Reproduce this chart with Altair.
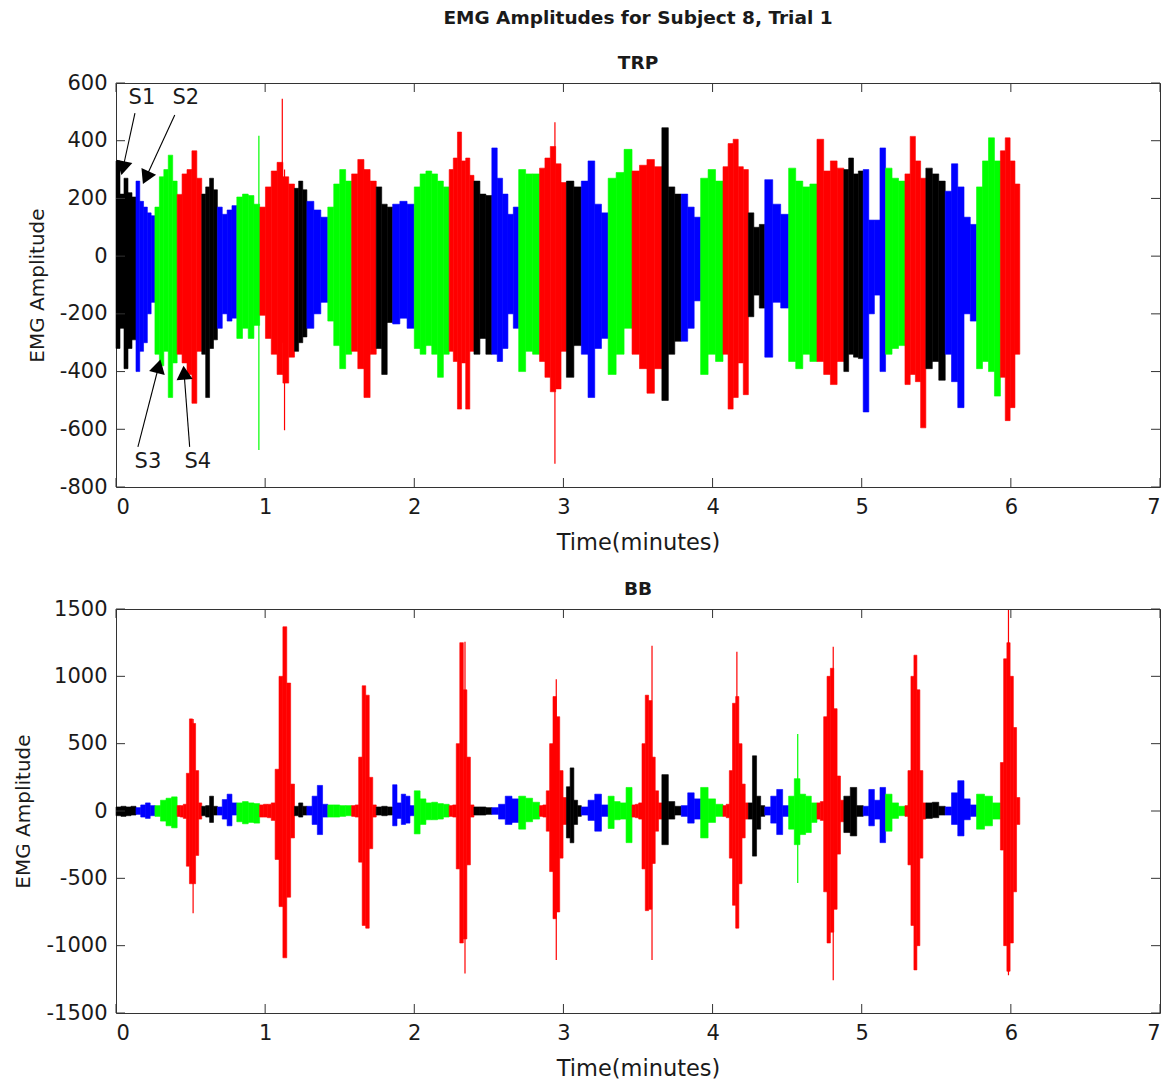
import math
import altair as alt
import pandas as pd

# ---------------- data ----------------
# segment boundaries (minutes); colours cycle S1..S4 = black, blue, green, red
BOUNDS = [0.0, 0.134, 0.261, 0.41, 0.575, 0.68, 0.81, 0.963, 1.197, 1.28, 1.42,
          1.58, 1.745, 1.855, 2.0, 2.234, 2.40, 2.52, 2.70, 2.84, 3.02, 3.12,
          3.30, 3.46, 3.66, 3.79, 3.92, 4.07, 4.24, 4.35, 4.51, 4.70, 4.88,
          5.01, 5.16, 5.29, 5.43, 5.56, 5.77, 5.93, 6.06]
COLORS = ["#000000", "#0000ff", "#00ff00", "#ff0000"]

# TRP envelope (upper / lower amplitude) across each segment
TRP_TOPS = [
    [330, 215, 270, 220, 205], [260, 190, 170, 150, 140], [170, 275, 300, 350, 260],
    [214, 285, 300, 365, 270], [215, 240, 270, 230], [170, 145, 160, 175],
    [205, 215, 210, 180], [170, 240, 295, 325, 275, 250], [235, 260, 230],
    [190, 160, 135], [170, 250, 300, 260], [285, 335, 300, 260], [240, 180, 170],
    [180, 190, 180], [240, 285, 295, 285, 260, 240], [300, 340, 430, 330, 340, 280],
    [260, 215, 210], [375, 270, 215, 145, 170], [300, 285, 285],
    [305, 340, 380, 320, 255], [260, 240], [260, 330, 180, 150], [270, 290, 370],
    [295, 315, 335, 310], [445, 240, 215], [215, 170, 135], [270, 300, 260],
    [310, 390, 405, 310, 300], [150, 100, 110], [265, 180, 145], [305, 260, 240, 250],
    [405, 295, 330, 305], [300, 340, 285, 295], [300, 125, 125, 375], [305, 270, 260],
    [285, 415, 330, 270], [305, 285, 260], [225, 320, 240, 135, 110],
    [240, 330, 410, 330], [365, 410, 330, 250],
]
TRP_BOTS = [
    [-320, -250, -390, -320, -290], [-400, -330, -300, -200, -160], [-340, -380, -330, -490, -370],
    [-340, -370, -410, -510, -330], [-340, -490, -320, -290], [-250, -200, -225, -215],
    [-285, -250, -285, -240], [-205, -285, -340, -410, -440, -350], [-330, -300, -280],
    [-250, -200, -160], [-225, -310, -390, -340], [-330, -390, -490, -340], [-320, -410, -230],
    [-235, -215, -250], [-320, -340, -310, -340, -420, -340], [-330, -365, -530, -370, -530, -330],
    [-340, -285, -340], [-340, -365, -320, -200, -250], [-400, -330, -340],
    [-365, -420, -470, -460, -330], [-420, -310], [-340, -490, -320, -285], [-410, -340, -250],
    [-340, -390, -475, -390], [-500, -340, -295], [-295, -250, -155], [-410, -340, -365],
    [-340, -530, -490, -370, -480], [-210, -135, -180], [-350, -160, -180], [-365, -390, -340, -365],
    [-365, -410, -445, -365], [-400, -340, -350, -355], [-540, -200, -135, -400], [-340, -320, -310],
    [-445, -410, -435, -595], [-390, -365, -430], [-340, -435, -525, -200, -225],
    [-390, -365, -400, -485], [-420, -570, -525, -340],
]
# isolated spikes: time, upper, lower
TRP_SPIKE_T = [0.958, 1.115, 1.13, 2.943]
TRP_SPIKE_TOP = [417, 545, 300, 464]
TRP_SPIKE_BOT = [-672, -300, -603, -719]

BB_TOPS = [
    [30, 35, 30, 35], [25, 45, 60, 40], [40, 80, 95, 105],
    [40, 40, 50, 280, 684, 650, 300, 60], [35, 40, 110, 35], [30, 85, 125, 60],
    [60, 70, 60, 55], [45, 50, 50, 60, 310, 1000, 1368, 950, 200], [35, 60, 35],
    [35, 110, 190, 50], [45, 45, 40, 40], [40, 45, 400, 930, 860, 250, 45], [30, 35, 30],
    [195, 60, 125, 110, 40], [150, 90, 60, 65, 55, 50], [40, 45, 500, 1250, 900, 400, 45],
    [30, 30, 25], [25, 50, 110, 90], [110, 95, 65], [40, 45, 150, 500, 850, 700, 300, 100],
    [180, 320, 80, 40], [30, 80, 125, 45], [110, 70, 60, 175],
    [45, 50, 60, 500, 860, 820, 400, 150, 60], [270, 70, 35], [40, 135, 90], [175, 90, 50],
    [40, 50, 300, 800, 850, 500, 200, 60], [60, 410, 110, 40], [30, 110, 160, 40],
    [110, 240, 125, 110, 60], [60, 70, 700, 1000, 1060, 760, 260, 80], [110, 175, 40],
    [35, 160, 80, 175], [125, 60, 35], [40, 300, 1000, 1157, 900, 300, 60], [60, 65, 35],
    [30, 135, 225, 90, 45], [125, 110, 60], [360, 1130, 1250, 1000, 620, 100],
]
BB_BOTS = [
    [-35, -40, -35, -30], [-25, -45, -55, -35], [-40, -75, -110, -125],
    [-40, -45, -55, -410, -540, -540, -330, -60], [-35, -45, -85, -30], [-30, -60, -110, -30],
    [-80, -95, -85, -90], [-45, -45, -50, -70, -360, -710, -1090, -640, -200], [-35, -45, -30],
    [-30, -100, -175, -45], [-45, -45, -40, -35], [-40, -45, -380, -850, -870, -280, -45], [-30, -35, -30],
    [-110, -55, -100, -90, -35], [-170, -100, -65, -65, -60, -45], [-40, -45, -430, -980, -950, -400, -45],
    [-30, -30, -25], [-25, -60, -100, -85], [-135, -80, -60], [-40, -45, -150, -450, -800, -750, -350, -100],
    [-200, -236, -100, -40], [-30, -70, -150, -40], [-130, -65, -60, -235],
    [-45, -50, -60, -430, -740, -730, -390, -150, -60], [-250, -60, -30], [-40, -90, -60], [-200, -85, -40],
    [-40, -50, -350, -700, -870, -540, -200, -60], [-60, -335, -135, -40], [-30, -90, -175, -40],
    [-135, -250, -175, -160, -85], [-60, -70, -600, -980, -900, -730, -320, -80], [-160, -185, -40],
    [-35, -110, -60, -235], [-150, -55, -35], [-40, -400, -850, -1180, -1000, -350, -60], [-55, -50, -30],
    [-30, -100, -185, -65, -40], [-135, -110, -60], [-290, -1000, -1190, -980, -600, -100],
]
BB_SPIKE_T = [0.517, 2.34, 2.952, 3.594, 4.163, 4.571, 4.809, 5.984]
BB_SPIKE_TOP = [684, 1256, 978, 1227, 1182, 572, 1219, 1493]
BB_SPIKE_BOT = [-759, -1207, -1107, -1107, -871, -535, -1256, -1219]

# annotations on the TRP panel
ANN_TEXT = ["S1", "S2", "S3", "S4"]
ANN_T = [0.174, 0.468, 0.214, 0.548]
ANN_V = [547, 547, -714, -714]
ARR_T0 = [0.127, 0.394, 0.147, 0.494]
ARR_V0 = [496, 489, -661, -661]
ARR_T1 = [0.040, 0.187, 0.294, 0.454]
ARR_V1 = [289, 257, -366, -388]

X_TICKS = [0, 1, 2, 3, 4, 5, 6, 7]

# ---------------- building ----------------
W, H = 1044, 404
FONT = "DejaVu Sans"
INK = "#1a1a1a"


def seg_color(t):
    for i in range(len(BOUNDS) - 1):
        if BOUNDS[i] <= t < BOUNDS[i + 1]:
            return COLORS[i % 4]
    return COLORS[-1]


def bins_frame(tops, bots):
    rows = []
    for i in range(len(BOUNDS) - 1):
        a, b = BOUNDS[i], BOUNDS[i + 1]
        n = len(tops[i])
        for j in range(n):
            rows.append(dict(t0=a + (b - a) * j / n, t1=a + (b - a) * (j + 1) / n,
                             top=tops[i][j], bot=bots[i][j], c=COLORS[i % 4]))
    return pd.DataFrame(rows)


def spikes_frame(ts, tops, bots):
    return pd.DataFrame(dict(t0=ts, top=tops, bot=bots, c=[seg_color(t) for t in ts]))


def panel(df, sp, ymin, ymax, ystep, title, extra=None):
    yvals = list(range(ymin, ymax + 1, ystep))
    xs = alt.Scale(domain=[0, 7], nice=False, zero=False)
    ys = alt.Scale(domain=[ymin, ymax], nice=False, zero=False)
    xax = alt.Axis(values=X_TICKS, title="Time(minutes)", tickSize=0, domain=False,
                   grid=False, labelPadding=9, titlePadding=14, labelExpr="'' + datum.value",
                   titleFontSize=22.5)
    yax = alt.Axis(values=yvals, title="EMG Amplitude", tickSize=0, domain=False,
                   grid=False, labelPadding=9, titlePadding=12, labelExpr="'' + datum.value",
                   titleFontSize=20)
    X = lambda f: alt.X(f, scale=xs, axis=xax)
    Y = lambda f: alt.Y(f, scale=ys, axis=yax)
    bars = alt.Chart(df).mark_bar(strokeWidth=0.6).encode(
        x=X("t0:Q"), x2="t1:Q", y=Y("top:Q"), y2="bot:Q",
        color=alt.Color("c:N", scale=None), stroke=alt.Stroke("c:N", scale=None))
    spikes = alt.Chart(sp).mark_rule(strokeWidth=1.2).encode(
        x=X("t0:Q"), y=Y("top:Q"), y2="bot:Q",
        color=alt.Color("c:N", scale=None))
    xt = pd.DataFrame(dict(v=X_TICKS))
    yt = pd.DataFrame(dict(v=yvals))
    tk = dict(color="#333333", strokeWidth=1)
    xt_bot = alt.Chart(xt).mark_rule(**tk).encode(
        x=X("v:Q"), y=alt.value(H), y2=alt.value(H - 9))
    xt_top = alt.Chart(xt).mark_rule(**tk).encode(
        x=X("v:Q"), y=alt.value(0), y2=alt.value(9))
    yt_l = alt.Chart(yt).mark_rule(**tk).encode(
        y=Y("v:Q"), x=alt.value(0), x2=alt.value(9))
    yt_r = alt.Chart(yt).mark_rule(**tk).encode(
        y=Y("v:Q"), x=alt.value(W), x2=alt.value(W - 9))
    layers = [bars, spikes, xt_bot, xt_top, yt_l, yt_r]
    if extra:
        layers += [e(X, Y) for e in extra]
    return alt.layer(*layers).properties(width=W, height=H, title=title)


# arrows for the TRP annotations
trp_min, trp_max = -800, 600
px_t = W / 7.0
px_v = H / float(trp_max - trp_min)
ang, ht, hv = [], [], []
HEAD_BACK = 7.0  # px: head centre sits behind the tip
for a, b, c, d in zip(ARR_T0, ARR_V0, ARR_T1, ARR_V1):
    dx = (c - a) * px_t
    dy = -(d - b) * px_v
    L = math.hypot(dx, dy)
    ang.append((math.degrees(math.atan2(dx, -dy)) + 360) % 360)
    ht.append(c - dx / L * HEAD_BACK / px_t)
    hv.append(d + dy / L * HEAD_BACK / px_v)
arr = pd.DataFrame(dict(t0=ARR_T0, v0=ARR_V0, t1=ARR_T1, v1=ARR_V1, ang=ang, ht=ht, hv=hv))
ann = pd.DataFrame(dict(t=ANN_T, v=ANN_V, s=ANN_TEXT))


def arrow_lines(X, Y):
    return alt.Chart(arr).mark_rule(color="#000000", strokeWidth=1.1).encode(
        x=X("t0:Q"), x2="t1:Q", y=Y("v0:Q"), y2="v1:Q")


def arrow_heads(X, Y):
    return alt.Chart(arr).mark_point(shape="triangle", filled=True, color="#000000",
                                     size=260, opacity=1).encode(
        x=X("ht:Q"), y=Y("hv:Q"), angle=alt.Angle("ang:Q", scale=None))


def ann_text(X, Y):
    return alt.Chart(ann).mark_text(font=FONT, fontSize=21, color=INK).encode(
        x=X("t:Q"), y=Y("v:Q"), text="s:N")


trp = panel(bins_frame(TRP_TOPS, TRP_BOTS), spikes_frame(TRP_SPIKE_T, TRP_SPIKE_TOP, TRP_SPIKE_BOT),
            trp_min, trp_max, 200,
            alt.TitleParams(text="EMG Amplitudes for Subject 8, Trial 1", subtitle="TRP",
                            fontSize=18.5, fontWeight="bold", subtitleFontSize=18.5,
                            subtitleFontWeight="bold", subtitlePadding=26, offset=0,
                            font=FONT, subtitleFont=FONT, color=INK,
                            subtitleColor=INK, anchor="middle"),
            extra=[arrow_lines, arrow_heads, ann_text])
bb = panel(bins_frame(BB_TOPS, BB_BOTS), spikes_frame(BB_SPIKE_T, BB_SPIKE_TOP, BB_SPIKE_BOT),
           -1500, 1500, 500,
           alt.TitleParams(text="BB", fontSize=18.5, fontWeight="bold", offset=0, font=FONT,
                           color=INK, anchor="middle"))

chart = alt.vconcat(trp, bb, spacing=25).properties(
    padding={"left": 5, "top": 0, "right": 0, "bottom": 0}
).configure_view(stroke="#333333", strokeWidth=1).configure_axis(
    labelFont=FONT, titleFont=FONT, labelFontSize=21,
    titleFontWeight="normal", labelColor=INK, titleColor=INK
).configure_title(font=FONT)

chart.save("out.html", embed_options={"renderer": "svg", "actions": False})
